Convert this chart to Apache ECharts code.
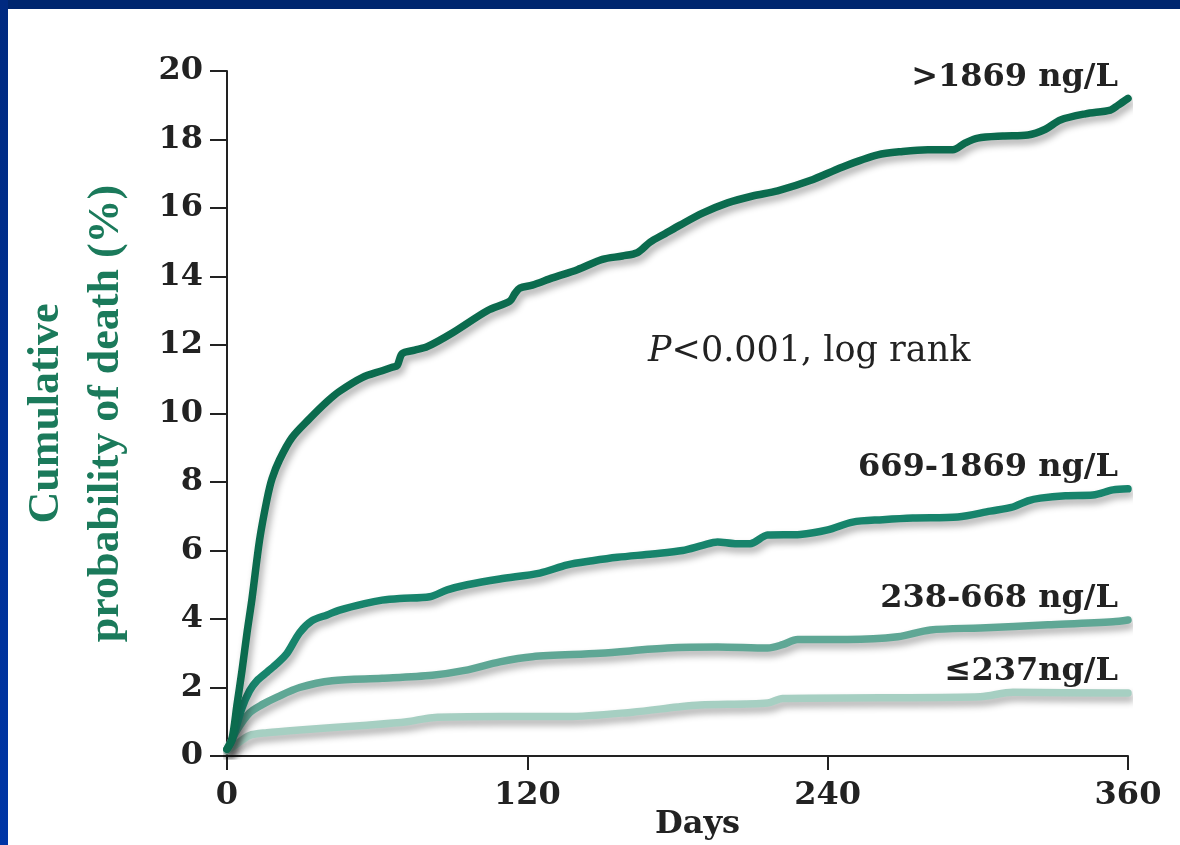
<!DOCTYPE html>
<html>
<head>
<meta charset="utf-8">
<script src="https://cdn.jsdelivr.net/npm/echarts@6/dist/echarts.min.js"></script>
<style>
  html, body { margin: 0; padding: 0; background: #fff; }
  #wrap { position: relative; width: 1180px; height: 845px; overflow: hidden; }
  #chart { position: absolute; left: 0; top: 0; width: 1180px; height: 845px; }
  .band-top { position: absolute; left: 0; top: 0; width: 1180px; height: 9px; background: #00266e; }
  .band-left { position: absolute; left: 0; top: 0; width: 8px; height: 845px; background: linear-gradient(#002a80, #0036a6); }
</style>
</head>
<body>
<div id="wrap">
  <div id="chart"></div>
  <div class="band-top"></div>
  <div class="band-left"></div>
</div>
<script>
// 坐标轴刻度
const xTicks = [0, 120, 240, 360]
const yTicks = [0, 2, 4, 6, 8, 10, 12, 14, 16, 18, 20]

// 各组名称
const seriesNames = ['>1869 ng/L', '669-1869 ng/L', '238-668 ng/L', '≤237ng/L']
const seriesColors = ['#0b6b4e', '#17846c', '#5fa795', '#a6cfc2']

// >1869 ng/L
const highDays = [0, 2, 4, 6, 8, 10, 13, 16, 18, 21, 26, 33, 40, 45, 54, 62, 66, 68, 70, 75, 80, 90, 104, 113, 115, 117, 122, 130, 140, 150, 158, 164, 169, 175, 181, 190, 200, 210, 220, 233, 246, 260, 270, 280, 290, 295, 300, 310, 320, 327, 333, 343, 353, 356, 360]
const highValues = [0.2, 0.5, 1.5, 2.5, 3.6, 4.6, 6.3, 7.5, 8.1, 8.65, 9.3, 9.85, 10.35, 10.65, 11.05, 11.25, 11.35, 11.4, 11.75, 11.85, 11.95, 12.35, 13.0, 13.28, 13.5, 13.66, 13.75, 13.96, 14.2, 14.5, 14.6, 14.7, 15.0, 15.25, 15.5, 15.85, 16.15, 16.35, 16.5, 16.8, 17.2, 17.55, 17.65, 17.7, 17.7, 17.9, 18.04, 18.1, 18.13, 18.3, 18.57, 18.75, 18.86, 19.0, 19.2]

// 669-1869 ng/L
const midHighDays = [0, 2, 6, 9, 12, 16, 20, 24, 29, 34, 40, 45, 55, 62, 69, 81, 88, 96, 109, 125, 136, 146, 156, 170, 182, 190, 196, 203, 209, 216, 229, 240, 250, 262, 274, 292, 305, 314, 320, 325, 335, 346, 354, 360]
const midHighValues = [0.2, 0.45, 1.4, 1.9, 2.2, 2.45, 2.7, 3.0, 3.6, 3.95, 4.12, 4.26, 4.45, 4.55, 4.6, 4.65, 4.85, 5.0, 5.17, 5.34, 5.58, 5.7, 5.8, 5.9, 6.0, 6.15, 6.25, 6.2, 6.2, 6.45, 6.47, 6.6, 6.83, 6.9, 6.95, 6.98, 7.15, 7.27, 7.45, 7.53, 7.6, 7.62, 7.77, 7.8]

// 238-668 ng/L
const midLowDays = [0, 4, 9, 14, 20, 29, 42, 62, 82, 95, 109, 122, 149, 176, 196, 216, 222, 228, 248, 268, 281, 301, 328, 354, 360]
const midLowValues = [0.2, 0.76, 1.26, 1.5, 1.72, 2.0, 2.2, 2.27, 2.36, 2.5, 2.75, 2.9, 3.0, 3.15, 3.18, 3.15, 3.25, 3.4, 3.4, 3.48, 3.68, 3.74, 3.83, 3.92, 3.97]

// ≤237ng/L
const lowDays = [0, 3, 9, 16, 29, 56, 72, 82, 109, 136, 162, 180, 189, 216, 222, 261, 301, 314, 354, 360]
const lowValues = [0.15, 0.3, 0.6, 0.68, 0.76, 0.9, 1.0, 1.12, 1.15, 1.15, 1.28, 1.43, 1.49, 1.55, 1.68, 1.7, 1.73, 1.86, 1.84, 1.84]

const groups = [
  [highDays, highValues],
  [midHighDays, midHighValues],
  [midLowDays, midLowValues],
  [lowDays, lowValues],
]

const tickFont = {
  color: '#222',
  fontFamily: 'DejaVu Serif',
  fontWeight: 'bold',
  fontSize: 32,
}

const chart = echarts.init(document.getElementById('chart'))

const series = groups.map(([days, values], index) => ({
  name: seriesNames[index],
  type: 'line',
  data: days.map((d, i) => [d, values[i]]),
  smooth: 0.3,
  symbol: 'none',
  z: 10 - index,
  lineStyle: {
    width: 7.5,
    color: seriesColors[index],
    cap: 'round',
    join: 'round',
    shadowColor: 'rgba(0, 0, 0, 0.32)',
    shadowBlur: 7,
    shadowOffsetX: 3,
    shadowOffsetY: 5,
  },
  endLabel: {
    show: true,
    formatter: seriesNames[index],
    align: 'right',
    verticalAlign: 'bottom',
    distance: 0,
    offset: [-10, -5],
    ...tickFont,
  },
}))

const option = {
  animation: false,
  backgroundColor: '#fff',
  grid: { left: 227, right: 52, top: 71, bottom: 89, containLabel: false, outerBoundsMode: 'none' },
  xAxis: {
    type: 'value',
    min: xTicks[0],
    max: xTicks[xTicks.length - 1],
    interval: 120,
    name: 'Days',
    nameLocation: 'middle',
    nameGap: 53,
    nameMoveOverlap: false,
    nameTextStyle: { ...tickFont, padding: [0, 0, 0, 40] },
    axisLine: { lineStyle: { color: '#222', width: 2 } },
    axisTick: { length: 14, lineStyle: { color: '#222', width: 2 } },
    axisLabel: { ...tickFont, margin: 24 },
    splitLine: { show: false },
  },
  yAxis: {
    type: 'value',
    min: yTicks[0],
    max: yTicks[yTicks.length - 1],
    interval: 2,
    name: 'Cumulative\nprobability of death (%)',
    nameLocation: 'middle',
    nameRotate: 90,
    nameGap: 90,
    nameMoveOverlap: false,
    nameTextStyle: {
      color: '#1b7a5b',
      fontFamily: 'Liberation Serif',
      fontWeight: 'bold',
      fontSize: 44,
      lineHeight: 60,
    },
    axisLine: { show: true, lineStyle: { color: '#222', width: 2 } },
    axisTick: { show: true, length: 17, lineStyle: { color: '#222', width: 2 } },
    axisLabel: { ...tickFont, margin: 24 },
    splitLine: { show: false },
  },
  graphic: [
    {
      type: 'text',
      left: 648,
      top: 334,
      style: {
        text: '{p|P}<0.001, log rank',
        fill: '#222',
        font: '35px "DejaVu Serif"',
        rich: {
          p: { fontStyle: 'italic', fontFamily: 'DejaVu Serif', fontSize: 35, fill: '#222' },
        },
      },
    },
  ],
  series,
}

chart.setOption(option)
</script>
</body>
</html>
